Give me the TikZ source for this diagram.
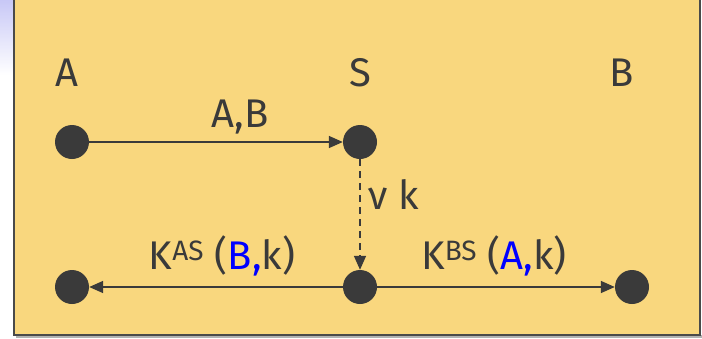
\documentclass[tikz,border=0pt]{standalone}
\usepackage{fontspec}
\setmainfont{Fira Sans}
\usetikzlibrary{arrows.meta}
\definecolor{panel}{HTML}{F9D77E}
\definecolor{ink}{HTML}{3A3A3A}
\definecolor{edge}{HTML}{4A4A4A}
\definecolor{haze}{HTML}{C8C8F6}
\tikzset{
  dot/.style={circle,fill=ink,inner sep=0pt,minimum size=34pt},
  lbl/.style={text=ink,font=\fontsize{40}{40}\selectfont,inner sep=0pt},
  msg/.style={draw=ink,line width=1.6pt,-{Triangle[length=14pt,width=12pt]}},
}
\begin{document}
\begin{tikzpicture}[x=1pt,y=-1pt]
\useasboundingbox (0,0) rectangle (702,338);
\fill[white] (0,0) rectangle (702,338);
\shade[top color=haze,bottom color=white] (0,0) rectangle (14,75);
\fill[gray!60] (16,335) rectangle (702,338);
\filldraw[fill=panel,draw=edge,line width=2.5pt] (14,-3) rectangle (700,335);

\node[lbl] (lA) at (67,73) {A};
\node[lbl] (lS) at (360,73) {S};
\node[lbl] (lB) at (622,73) {B};

\node[dot] (a1) at (72,142) {};
\node[dot] (s1) at (360,142) {};
\node[dot] (a2) at (72,287) {};
\node[dot] (s2) at (360,287) {};
\node[dot] (b2) at (632,287) {};

\draw[msg] (a1) -- node[lbl,above=7pt,xshift=24pt] {A,B} (s1);
\draw[msg,dashed,dash pattern=on 7pt off 5pt] (s1) -- node[lbl,right=8pt,yshift=20pt] {ν k} (s2);
\draw[msg] (s2) -- node[lbl,above=10pt,xshift=6pt] {K\textsuperscript{AS} (\textcolor{blue}{B,}k)} (a2);
\draw[msg] (s2) -- node[lbl,above=10pt,xshift=-2pt] {K\textsuperscript{BS} (\textcolor{blue}{A,}k)} (b2);
\end{tikzpicture}
\end{document}
